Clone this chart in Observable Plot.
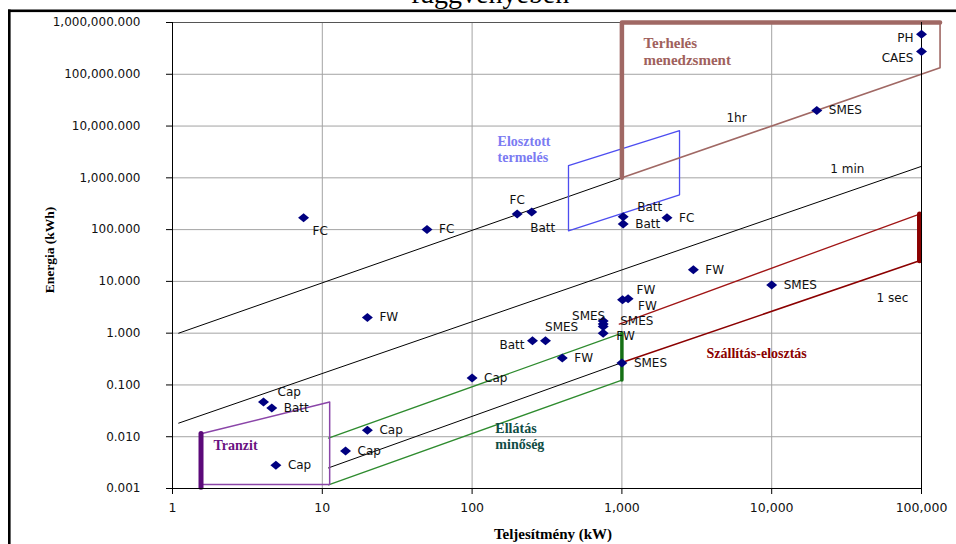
<!DOCTYPE html>
<html>
<head>
<meta charset="utf-8">
<script src="https://cdn.jsdelivr.net/npm/d3@7"></script>
<script src="https://cdn.jsdelivr.net/npm/@observablehq/plot@0.6"></script>
<style>
  html, body { margin: 0; padding: 0; background: #fff; }
  #chart { position: relative; width: 956px; height: 544px; overflow: hidden; }
</style>
</head>
<body>
<div id="chart"></div>
<script>
// ---- Axis ticks ----
const xTicks = [1, 10, 100, 1000, 10000, 100000];
const yTicks = [0.001, 0.01, 0.1, 1, 10, 100, 1000, 10000, 100000, 1000000];

// ---- Technology points (power kW, energy kWh) ----
const powerKW   = [7.5, 50, 20, 200, 250, 1020, 1020, 2000, 3000, 10000, 1010, 1100, 750, 750, 750, 750, 253, 309, 400, 1000, 100, 4.05, 4.6, 20, 14.3, 4.9, 20000, 100000, 100000];
const energyKWh = [170, 100, 2, 200, 220, 177, 129, 170, 16.7, 8.5, 4.4, 4.6, 1.72, 1.35, 1.5, 1.0, 0.71, 0.71, 0.33, 0.265, 0.136, 0.047, 0.036, 0.0134, 0.0053, 0.0028, 20000, 590000, 275000];
const techLabels = ["FC", "FC", "FW", "FC", "Batt", "Batt", "Batt", "FC", "FW", "SMES", "FW", "FW", "SMES", "SMES", "SMES", "FW", "Batt", "", "FW", "SMES", "Cap", "Cap", "Batt", "Cap", "Cap", "Cap", "SMES", "PH", "CAES"];
const labelSide = ["br", "r", "r", "a", "b", "ar", "r", "r", "r", "r", "ar", "rb", "al", "lf", "rr", "rf", "l", "", "r", "r", "r", "ar", "r", "r", "r", "r", "r", "l", "lb"];

// ---- Discharge-time lines ----
const oneHourP = [1.1, 1000],   oneHourE = [1.0, 1000];
const oneMinP  = [1.1, 100000], oneMinE  = [0.0183, 1667];
const oneSecP  = [11, 1000],    oneSecE  = [0.0025, 0.27];
const timeLabels = ["1hr", "1 min", "1 sec"];
const timeLabelP = [5820, 32000, 64000];
const timeLabelE = [13900, 1500, 4.8];

// ---- Application regions ----
const loadMgmtP = [1000, 133000, 133000], loadMgmtE = [1000, 133000, 1000000];
const loadMgmtThickP = [1000, 1000, 133000], loadMgmtThickE = [1000, 1000000, 1000000];
const distGenP = [440, 2425, 2425, 440, 440], distGenE = [1714, 8150, 471, 95, 1714];
const tdUpperP = [960, 97000], tdUpperE = [1.5, 200];
const tdLowerP = [1000, 97000], tdLowerE = [0.27, 25];
const tdBarP = [97000, 97000], tdBarE = [25, 200];
const pqUpperP = [11, 1000], pqUpperE = [0.0094, 1.0];
const pqLowerP = [11, 1000], pqLowerE = [0.00118, 0.124];
const pqBarP = [1000, 1000], pqBarE = [0.124, 1.0];
const transitP = [1.55, 11.2, 11.2, 1.55], transitE = [0.0114, 0.047, 0.0012, 0.0012];
const transitBarP = [1.55, 1.55], transitBarE = [0.00106, 0.0116];

const regionLabels = ["Terhelés\nmenedzsment", "Elosztott\ntermelés", "Szállítás-elosztás", "Ellátás\nminőség", "Tranzit"];
const regionLabelP = [1393, 148, 3670, 143, 1.88];
const regionLabelE = [281000, 3660, 0.414, 0.0103, 0.0069];
const regionColors = ["#a0615c", "#7b7bf2", "#8b0000", "#0f4d45", "#6a1181"];

// ---- helpers ----
const pts = (P, E) => P.map((p, i) => [p, E[i]]);
const seg = (P, E, opts) => Plot.line(pts(P, E), {x: d => d[0], y: d => d[1], ...opts});

const wideDiamond = {
  draw(ctx, size) {
    const r = Math.sqrt(size / Math.PI);
    const w = r * 1.22, h = r;
    ctx.moveTo(-w, 0); ctx.lineTo(0, -h); ctx.lineTo(w, 0); ctx.lineTo(0, h); ctx.closePath();
  }
};

const techPoints = powerKW.map((P, i) => ({P, E: energyKWh[i], label: techLabels[i], side: labelSide[i]}));
const sideStyle = {
  r:  {dx: 12, dy: 0, textAnchor: "start"},
  rr: {dx: 17, dy: -3, textAnchor: "start"},
  rf: {dx: 13, dy: 3, textAnchor: "start"},
  br: {dx: 9, dy: 13, textAnchor: "start"},
  rb: {dx: 10, dy: 7, textAnchor: "start"},
  a:  {dx: 0, dy: -14, textAnchor: "middle"},
  b:  {dx: 11, dy: 16, textAnchor: "middle"},
  ar: {dx: 14, dy: -10, textAnchor: "start"},
  al: {dx: 2, dy: -5, textAnchor: "end"},
  lf: {dx: -25, dy: 1, textAnchor: "end"},
  l:  {dx: -8, dy: 4, textAnchor: "end"},
  lb: {dx: -8, dy: 7, textAnchor: "end"}
};
const labelMarks = Object.entries(sideStyle).map(([side, st]) =>
  Plot.text(techPoints.filter(d => d.side === side && d.label), {
    x: "P", y: "E", text: "label", ...st,
    fill: "#111", fontSize: 12, fontFamily: "DejaVu Sans"
  })
);

const regionTextMarks = regionLabels.map((t, i) =>
  Plot.text([i], {
    x: () => regionLabelP[i], y: () => regionLabelE[i], text: () => t,
    fill: regionColors[i], textAnchor: "start", lineHeight: 1.15,
    fontFamily: "Liberation Serif", fontWeight: "bold",
    fontSize: i === 0 ? 15 : 14, letterSpacing: i === 0 ? "0.8px" : "0.6px"
  })
);

const black = "#000";
const chart = Plot.plot({
  width: 956,
  height: 544,
  marginLeft: 172,
  marginRight: 35,
  marginTop: 22,
  marginBottom: 56,
  style: {background: "#fff", fontFamily: "DejaVu Sans", fontSize: "12px", color: "#000"},
  x: {type: "log", domain: [1, 100000], label: null},
  y: {type: "log", domain: [0.001, 1000000], label: null},
  marks: [
    Plot.gridX([10, 100, 1000, 10000], {stroke: "#a3a3a3", strokeOpacity: 1}),
    Plot.gridY(yTicks.slice(1, -1), {stroke: "#a3a3a3", strokeOpacity: 1}),
    Plot.ruleY([1000000], {stroke: "#555"}),

    // time lines
    seg(oneHourP, oneHourE, {stroke: black, strokeWidth: 1}),
    seg(oneMinP, oneMinE, {stroke: black, strokeWidth: 1}),
    seg(oneSecP, oneSecE, {stroke: black, strokeWidth: 1}),

    // distributed generation
    seg(distGenP, distGenE, {stroke: "#4d4df0", strokeWidth: 1.3}),
    // load management
    seg(loadMgmtP, loadMgmtE, {stroke: "#a06864", strokeWidth: 1.6}),
    seg(loadMgmtThickP, loadMgmtThickE, {stroke: "#a06864", strokeWidth: 4.5}),
    // transmission-distribution
    seg(tdUpperP, tdUpperE, {stroke: "#a01515", strokeWidth: 1.3}),
    seg(tdLowerP, tdLowerE, {stroke: "#8b0000", strokeWidth: 1.6}),
    seg(tdBarP, tdBarE, {stroke: "#8b0000", strokeWidth: 5}),
    // power quality
    seg(pqUpperP, pqUpperE, {stroke: "#2e8b2e", strokeWidth: 1.3}),
    seg(pqLowerP, pqLowerE, {stroke: "#2e8b2e", strokeWidth: 1.3}),
    seg(pqBarP, pqBarE, {stroke: "#157015", strokeWidth: 3.5}),
    // transit
    seg(transitP, transitE, {stroke: "#8a45a8", strokeWidth: 1.5}),
    seg(transitBarP, transitBarE, {stroke: "#5c0a7a", strokeWidth: 5}),

    // axes lines
    Plot.ruleX([1], {stroke: black}),
    Plot.ruleX([100000], {stroke: black}),
    Plot.ruleY([0.001], {stroke: black}),
    Plot.axisX(xTicks, {tickSize: 6, tickPadding: 9, tickFormat: d3.format(","), label: null, fontSize: 12.5, fontFamily: "DejaVu Sans", fill: "#111"}),
    Plot.axisY(yTicks, {tickSize: 6, tickPadding: 26, tickFormat: d3.format(",.3f"), label: null, fontSize: 12, fontFamily: "DejaVu Sans", fill: "#111"}),

    // points
    Plot.dot(techPoints, {x: "P", y: "E", symbol: wideDiamond, r: 4.5, fill: "#000080", stroke: "none"}),
    ...labelMarks,

    // time labels
    Plot.text(d3.range(timeLabels.length), {x: i => timeLabelP[i], y: i => timeLabelE[i], text: i => timeLabels[i], fill: "#111", fontSize: 12, fontFamily: "DejaVu Sans"}),

    ...regionTextMarks
  ]
});

const host = document.getElementById("chart");
host.appendChild(chart);

// decorations: cropped title, outer frame, axis titles
const svg = d3.select(chart);
svg.append("text")
  .attr("x", 490).attr("y", 3)
  .attr("text-anchor", "middle")
  .style("font-family", "Liberation Serif").style("font-size", "28px").attr("fill", "#000")
  .text("függvényében");
svg.append("rect").attr("x", 8).attr("y", 9.5).attr("width", 960).attr("height", 2.6).attr("fill", "#000");
svg.append("rect").attr("x", 8).attr("y", 9.5).attr("width", 2.6).attr("height", 540).attr("fill", "#000");
svg.append("text")
  .attr("transform", "translate(54,250) rotate(-90)")
  .attr("text-anchor", "middle")
  .style("font-family", "Liberation Serif").style("font-weight", "bold").style("font-size", "13.5px").attr("fill", "#000")
  .text("Energia (kWh)");
svg.append("text")
  .attr("x", 553).attr("y", 539)
  .attr("text-anchor", "middle")
  .style("font-family", "Liberation Serif").style("font-weight", "bold").style("font-size", "15px").attr("fill", "#000")
  .text("Teljesítmény (kW)");
</script>
</body>
</html>
